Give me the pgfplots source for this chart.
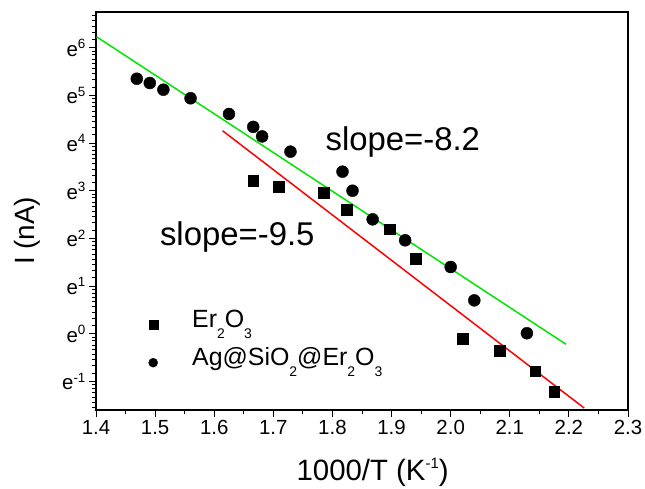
\documentclass[border=0pt]{standalone}
\usepackage{fontspec}
\setmainfont{Liberation Sans}
\usepackage{pgfplots}
\pgfplotsset{compat=1.18}
\definecolor{lgreen}{RGB}{0,230,0}
\newcommand\tsup[1]{\raisebox{7.5bp}{\fontsize{13.5}{13.5}\selectfont #1}}
\newcommand\lsub[1]{\raisebox{-11bp}{\fontsize{14}{14}\selectfont #1}}
\newcommand\xsup[1]{\raisebox{12bp}{\fontsize{15}{15}\selectfont #1}}
\def\minorlist{-2}
\foreach \n in {-2,...,6}{%
  \foreach \o in {0.1747,0.3234,0.4528,0.5674,0.6702,0.7634,0.8486,0.9272}{%
    \pgfmathparse{\n+\o}\xdef\minorlist{\minorlist,\pgfmathresult}}}
\begin{document}
\begin{tikzpicture}
\path[use as bounding box] (-96bp,-79bp) rectangle (549bp,410bp);
\begin{axis}[
  scale only axis, width=532bp, height=398bp,
  xmin=1.4, xmax=2.3, ymin=-1.6, ymax=6.75,
  xtick={1.4,1.5,1.6,1.7,1.8,1.9,2.0,2.1,2.2,2.3},
  minor x tick num=1,
  ytick={-1,0,1,2,3,4,5,6},
  yticklabels={e\tsup{-1},e\tsup{0},e\tsup{1},e\tsup{2},e\tsup{3},e\tsup{4},e\tsup{5},e\tsup{6}},
  minor ytick/.expanded={\minorlist},
  xtick pos=bottom, ytick pos=left,
  tick align=outside,
  major tick length=7bp, minor tick length=4bp,
  every tick/.style={black, line width=1pt},
  axis line style={line width=1.2pt},
  /pgf/number format/assume math mode=true,
  xticklabel style={/pgf/number format/.cd, fixed, fixed zerofill, precision=1},
  tick label style={font=\fontsize{20.5}{23}\selectfont},
  xlabel={1000/T (K\xsup{-1})},
  ylabel={I (nA)},
  xlabel style={font=\fontsize{29.5}{32}\selectfont, at={(axis description cs:0.52,-0.158)}, anchor=center},
  ylabel style={font=\fontsize{28}{30}\selectfont, at={(axis description cs:-0.129,0.45)}, anchor=center},
  legend style={draw=none, fill=none, at={(0.0987,0.2538)}, anchor=north west,
    inner sep=0pt, column sep=34.5bp,
    font=\fontsize{25}{28}\selectfont, row sep=7bp,
    nodes={inner sep=0pt, text height=18bp, text depth=13bp}},
  legend cell align=left,
  legend image post style={mark size=4.5bp},
]
\addplot[lgreen, line width=1.5pt, forget plot] coordinates {(1.401,6.23) (2.195,-0.22)};
\addplot[red, line width=1.5pt, forget plot] coordinates {(1.614,4.26) (2.226,-1.56)};
\addplot[only marks, mark=square*, mark size=5.3bp, black] table {
x y
1.666 3.21
1.709 3.08
1.785 2.96
1.824 2.60
1.897 2.19
1.941 1.57
2.020 -0.10
2.083 -0.35
2.143 -0.79
2.175 -1.21
};
\addlegendentry{Er\lsub{2}O\lsub{3}}
\addplot[only marks, mark=*, mark size=6bp, black] table {
x y
1.469 5.35
1.491 5.26
1.514 5.12
1.560 4.94
1.625 4.61
1.666 4.34
1.681 4.14
1.729 3.82
1.817 3.40
1.834 3.00
1.868 2.40
1.923 1.96
2.000 1.40
2.040 0.70
2.129 0.01
};
\addlegendentry{Ag@SiO\lsub{2}@Er\lsub{2}O\lsub{3}}
\node[font=\fontsize{33}{35}\selectfont] at (axis cs:1.919,4.03) {slope=-8.2};
\node[font=\fontsize{33}{35}\selectfont] at (axis cs:1.639,2.03) {slope=-9.5};
\end{axis}
\end{tikzpicture}
\end{document}
